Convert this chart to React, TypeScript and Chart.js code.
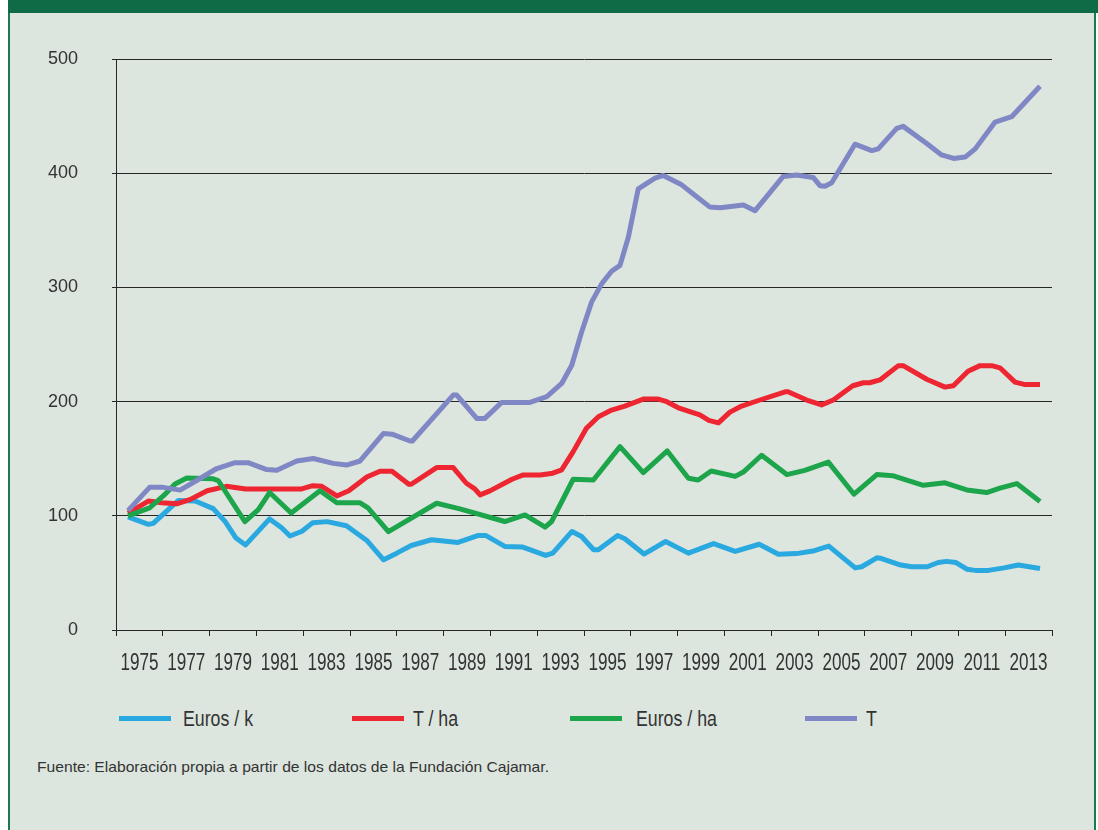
import React, { useEffect, useRef } from "react";
import { Chart, registerables } from "chart.js";

Chart.register(...registerables);

// ---- Data (index values, decimal years) ----
const eurosKYears = [1975.0, 1975.85, 1976.05, 1977.1, 1977.8, 1978.55, 1979.05, 1979.5, 1979.9, 1980.9, 1981.4, 1981.75, 1982.25, 1982.7, 1983.3, 1984.1, 1984.95, 1985.65, 1986.2, 1986.8, 1987.65, 1988.75, 1989.6, 1989.9, 1990.7, 1991.45, 1992.4, 1992.7, 1993.5, 1993.9, 1994.4, 1994.6, 1995.4, 1995.7, 1996.5, 1997.4, 1998.35, 1999.4, 2000.3, 2001.3, 2002.1, 2002.85, 2003.6, 2004.2, 2005.3, 2005.57, 2006.2, 2006.4, 2007.2, 2007.65, 2008.3, 2008.76, 2009.1, 2009.5, 2009.95, 2010.3, 2010.85, 2011.5, 2012.1, 2013.0];
const eurosKValues = [99, 92.5, 93.4, 113.5, 112.9, 106.3, 94.9, 80.5, 74.5, 97.3, 89.5, 82.3, 86.5, 94, 94.9, 91.3, 78.4, 61.5, 67.3, 74.0, 79.0, 76.7, 82.8, 82.8, 73.2, 72.6, 65.3, 67.3, 86.3, 81.9, 70.3, 70.3, 82.8, 79.9, 66.5, 77.5, 67.3, 75.7, 68.8, 75.1, 66.3, 66.9, 69.4, 73.5, 54.4, 55.4, 63.2, 62.6, 56.9, 55.4, 55.4, 59.1, 60.1, 59.1, 53.2, 52.2, 52.2, 54.4, 56.9, 53.8];

const tHaYears = [1975.0, 1975.85, 1976.4, 1977.03, 1977.6, 1978.3, 1979.1, 1979.9, 1982.2, 1982.7, 1983.07, 1983.7, 1984.2, 1984.95, 1985.5, 1986.0, 1986.7, 1986.8, 1987.86, 1988.55, 1989.1, 1989.45, 1989.67, 1990.08, 1991.0, 1991.47, 1992.17, 1992.7, 1993.07, 1993.55, 1994.1, 1994.6, 1995.15, 1995.7, 1996.47, 1997.1, 1997.45, 1997.93, 1998.83, 1999.2, 1999.6, 2000.08, 2000.57, 2001.33, 2002.38, 2002.5, 2003.28, 2003.9, 2004.39, 2005.2, 2005.64, 2005.9, 2006.33, 2007.1, 2007.3, 2008.28, 2009.04, 2009.39, 2010.0, 2010.5, 2010.99, 2011.33, 2011.96, 2012.38, 2013.0];
const tHaValues = [102.4, 112.9, 111.4, 110.5, 114.4, 121.9, 125.8, 123.4, 123.4, 126.4, 125.8, 117.4, 121.9, 133.9, 139, 139, 127.6, 127.6, 142.2, 142.2, 128.5, 123.6, 118.3, 121.8, 132, 135.8, 135.8, 137.3, 140.2, 156.2, 176.6, 186.8, 192.6, 196.1, 202.2, 202.2, 199.9, 194.6, 188.3, 183.6, 181.4, 190.8, 196.1, 201.4, 208.6, 208.6, 201.4, 197.1, 201.4, 213.9, 216.5, 216.5, 219, 231.5, 231.5, 219.6, 212.7, 213.9, 226.5, 231.5, 231.5, 229.6, 217.1, 214.9, 214.9];

const eurosHaYears = [1975.0, 1975.9, 1976.47, 1976.96, 1977.45, 1978.55, 1978.76, 1979.87, 1980.43, 1980.9, 1981.8, 1983.0, 1983.7, 1984.67, 1985.0, 1985.85, 1987.86, 1988.83, 1990.7, 1991.54, 1992.38, 1992.65, 1993.55, 1994.39, 1995.5, 1996.47, 1997.47, 1998.35, 1998.76, 1999.3, 2000.3, 2000.64, 2001.4, 2002.45, 2003.2, 2004.18, 2005.25, 2006.2, 2006.86, 2007.58, 2008.14, 2009.04, 2009.95, 2010.78, 2011.33, 2012.03, 2013.0];
const eurosHaValues = [100, 106.9, 117.4, 127.9, 133, 132.4, 130.9, 94.9, 105.4, 120.4, 102.4, 121.9, 111.4, 111.4, 106.9, 86.1, 111.0, 106.1, 95.0, 100.8, 90.1, 95.0, 132.0, 131.4, 160.6, 137.8, 156.8, 132.9, 131.4, 139.2, 134.5, 138.3, 153, 136.1, 139.8, 147, 118.9, 136.1, 135.1, 130.4, 126.7, 128.9, 122.6, 120.4, 124.2, 128.2, 112.6];

const tYears = [1975.0, 1975.9, 1976.47, 1977.17, 1977.86, 1978.7, 1979.46, 1980.0, 1980.78, 1981.2, 1982.03, 1982.72, 1983.55, 1984.1, 1984.67, 1985.64, 1986.0, 1986.75, 1986.85, 1988.55, 1988.7, 1989.53, 1989.87, 1990.57, 1991.75, 1992.45, 1993.07, 1993.49, 1993.9, 1994.32, 1994.74, 1995.15, 1995.5, 1995.85, 1996.26, 1996.96, 1997.3, 1998.07, 1998.63, 1999.25, 1999.67, 2000.64, 2001.13, 2002.3, 2002.86, 2003.55, 2003.83, 2004.04, 2004.32, 2005.29, 2005.99, 2006.26, 2007.03, 2007.3, 2008.28, 2008.9, 2009.4, 2009.88, 2010.3, 2011.13, 2011.82, 2013.0];
const tValues = [104.5, 124.9, 124.9, 122.5, 130.9, 141.4, 146.5, 146.5, 140.5, 139.9, 148, 150.2, 145.9, 144.4, 148, 172, 171.5, 165.5, 165.5, 205.7, 205.7, 185.3, 185.3, 199.3, 199.3, 204.3, 215.9, 231.9, 261.0, 287.3, 303.3, 314.1, 319.3, 344.1, 386.3, 395.6, 398, 389.8, 380.5, 370.3, 369.7, 372.2, 367.2, 397.2, 398.5, 396.3, 389.1, 388.5, 391.6, 425.4, 419.8, 421.3, 439.2, 441, 426, 416, 412.9, 414.1, 421.3, 444.8, 449.5, 476.1];

const xTickLabels = ["1975", "1977", "1979", "1981", "1983", "1985", "1987", "1989", "1991", "1993", "1995", "1997", "1999", "2001", "2003", "2005", "2007", "2009", "2011", "2013"];
const yTickValues = [0, 100, 200, 300, 400, 500];

const seriesNames = ["Euros / k", "T / ha", "Euros / ha", "T"];
const seriesColors = ["#2aa9e0", "#ed2631", "#1da54b", "#7f87c4"];
const sourceText = "Fuente: Elaboración propia a partir de los datos de la Fundación Cajamar.";

const FONT = '"Liberation Sans", Arial, sans-serif';
const TEXT = "#333333";
const GRID = "#262626";
const X_MIN = 1974.5;
const X_MAX = 2013.5;

const toPoints = (xs: number[], ys: number[]) => xs.map((x, i) => ({ x, y: ys[i] }));

let measureCtx: CanvasRenderingContext2D | null = null;
function measure(text: string, font: string): number {
  if (!measureCtx) measureCtx = document.createElement("canvas").getContext("2d");
  if (!measureCtx) return 1;
  measureCtx.font = font;
  return measureCtx.measureText(text).width;
}

// condensed x tick labels drawn through the x scale
const condensedXLabels = {
  id: "condensedXLabels",
  afterDraw(chart: any) {
    const xs = chart.scales.x;
    const ctx = chart.ctx;
    const step = (X_MAX - X_MIN) / xTickLabels.length;
    const font = `23px ${FONT}`;
    const k = 38 / measure("1975", font);
    ctx.save();
    ctx.font = font;
    ctx.fillStyle = TEXT;
    ctx.textAlign = "center";
    ctx.textBaseline = "alphabetic";
    xTickLabels.forEach((lab, i) => {
      const px = xs.getPixelForValue(X_MIN + (i + 0.5) * step);
      ctx.save();
      ctx.translate(px, xs.top + 40);
      ctx.scale(k, 1);
      ctx.fillText(lab, 0, 0);
      ctx.restore();
    });
    ctx.restore();
  },
};

function CondensedText(props: {
  text: string;
  left: number;
  top: number;
  size: number;
  width: number;
  lineHeight: number;
  refText?: string;
  refWidth?: number;
}) {
  const font = `${props.size}px ${FONT}`;
  const k = props.refText
    ? (props.refWidth || 1) / measure(props.refText, font)
    : props.width / measure(props.text, font);
  return (
    <div
      style={{
        position: "absolute",
        left: props.left,
        top: props.top,
        height: props.lineHeight,
        lineHeight: `${props.lineHeight}px`,
        fontFamily: FONT,
        fontSize: props.size,
        color: TEXT,
        whiteSpace: "nowrap",
        transform: `scaleX(${k})`,
        transformOrigin: "0 0",
      }}
    >
      {props.text}
    </div>
  );
}

export default function App() {
  const canvasRef = useRef<HTMLCanvasElement | null>(null);

  useEffect(() => {
    if (!canvasRef.current) return;
    const step = (X_MAX - X_MIN) / xTickLabels.length;
    const allSeries = [
      toPoints(eurosKYears, eurosKValues),
      toPoints(tHaYears, tHaValues),
      toPoints(eurosHaYears, eurosHaValues),
      toPoints(tYears, tValues),
    ];
    const chart = new Chart(canvasRef.current, {
      type: "line",
      data: {
        datasets: allSeries.map((pts, i) => ({
          label: seriesNames[i],
          data: pts,
          borderColor: seriesColors[i],
          backgroundColor: seriesColors[i],
          borderWidth: 5,
          pointRadius: 0,
          tension: 0,
          borderJoinStyle: "round" as const,
          borderCapStyle: "butt" as const,
          order: 4 - i,
        })),
      },
      options: {
        responsive: false,
        animation: false,
        events: [],
        layout: { padding: { top: 59, right: 46, left: 0, bottom: 20 } },
        plugins: { legend: { display: false }, tooltip: { enabled: false } },
        scales: {
          x: {
            type: "linear",
            min: X_MIN,
            max: X_MAX,
            afterBuildTicks: (scale: any) => {
              const t: any[] = [];
              for (let j = 0; j <= xTickLabels.length; j++) {
                t.push({ value: X_MIN + j * step });
              }
              scale.ticks = t;
            },
            afterFit: (scale: any) => {
              scale.height = 50;
            },
            grid: {
              drawOnChartArea: false,
              drawTicks: true,
              tickLength: 6,
              color: GRID,
              lineWidth: 1,
            },
            border: { display: true, color: GRID, width: 1 },
            ticks: { display: false, autoSkip: false },
          },
          y: {
            type: "linear",
            min: 0,
            max: 500,
            afterBuildTicks: (scale: any) => {
              scale.ticks = yTickValues.map((v) => ({ value: v }));
            },
            afterFit: (scale: any) => {
              scale.width = 116;
            },
            grid: {
              color: GRID,
              lineWidth: 1,
              tickLength: 4,
              drawTicks: true,
            },
            border: { display: true, color: GRID, width: 1 },
            ticks: {
              padding: 34,
              color: TEXT,
              font: { family: FONT, size: 18 },
            },
          },
        },
      },
      plugins: [condensedXLabels],
    } as any);
    return () => chart.destroy();
  }, []);

  const legendLineX = [119, 352, 570, 805];
  const legendTextX = [183, 413, 636, 866];

  return (
    <div
      style={{
        position: "absolute",
        left: 0,
        top: 0,
        width: 1098,
        height: 830,
        background: "#ffffff",
        overflow: "hidden",
      }}
    >
      <div
        style={{
          position: "absolute",
          left: 8,
          top: 0,
          width: 1090,
          height: 13,
          background: "#0e6b45",
        }}
      />
      <div
        style={{
          position: "absolute",
          left: 8,
          top: 13,
          width: 1088,
          height: 830,
          boxSizing: "border-box",
          background: "#dce5de",
          borderLeft: "2px solid #1c7a52",
          borderRight: "2px solid #1c7a52",
        }}
      />
      <canvas
        ref={canvasRef}
        width={1098}
        height={700}
        style={{ position: "absolute", left: 0, top: 0, width: 1098, height: 700 }}
      />
      {seriesNames.map((name, i) => (
        <React.Fragment key={name}>
          <div
            style={{
              position: "absolute",
              left: legendLineX[i],
              top: 716,
              width: 52,
              height: 5,
              background: seriesColors[i],
            }}
          />
          <CondensedText
            text={name}
            left={legendTextX[i]}
            top={706}
            size={22}
            width={0}
            lineHeight={26}
            refText="Euros / k"
            refWidth={70}
          />
        </React.Fragment>
      ))}
      <CondensedText text={sourceText} left={37} top={757} size={15} width={512} lineHeight={20} />
    </div>
  );
}
